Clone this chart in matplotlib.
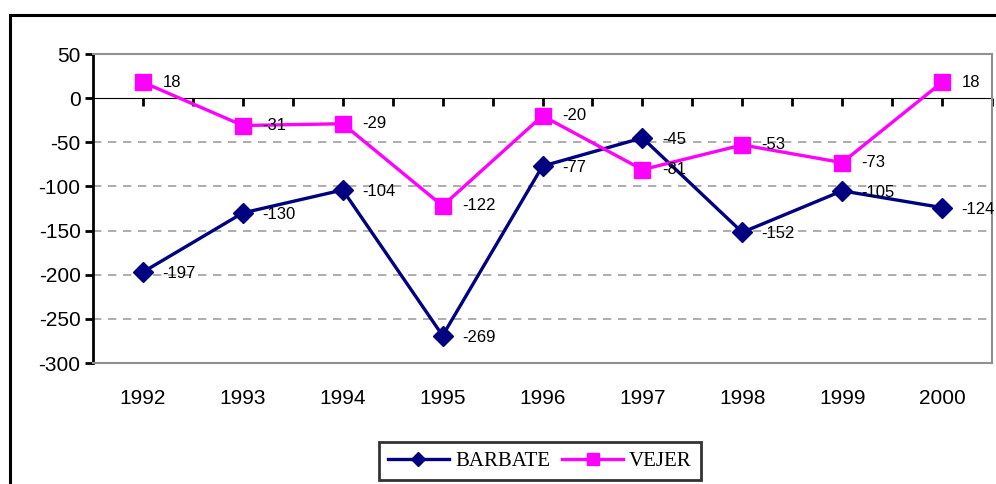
import matplotlib
matplotlib.use("Agg")
import matplotlib.pyplot as plt
import numpy as np
from matplotlib.patches import Rectangle

years = ["1992", "1993", "1994", "1995", "1996", "1997", "1998", "1999", "2000"]
barbate = [-197, -130, -104, -269, -77, -45, -152, -105, -124]
vejer = [18, -31, -29, -122, -20, -81, -53, -73, 18]

YMIN, YMAX = -300, 50
sans = "Liberation Sans"
plt.rcParams["axes.unicode_minus"] = False

fig = plt.figure(figsize=(9.96, 4.84), dpi=100)
ax = fig.add_axes([93 / 996, 1 - 363 / 484, 899 / 996, 309 / 484])

# outer chart frame (runs off the right and bottom edges)
fig.patches.append(Rectangle((10 / 996, -0.1), 1.2, 1 - 15 / 484 + 0.1,
                             transform=fig.transFigure, fill=False,
                             edgecolor="black", linewidth=2.2, clip_on=False))

x = np.arange(len(years))
navy = "#000080"
magenta = "#FF00FF"

ax.plot(x, barbate, color=navy, linewidth=2.4, marker="D", markersize=10,
        markerfacecolor=navy, markeredgecolor=navy, label="BARBATE", zorder=4)
ax.plot(x, vejer, color=magenta, linewidth=2.4, marker="s", markersize=11,
        markerfacecolor=magenta, markeredgecolor=magenta, label="VEJER", zorder=5)

# data labels
for xi, v in zip(x, barbate):
    ax.annotate(f"{v}", (xi, v), xytext=(14, -1), textcoords="offset points",
                ha="left", va="center", fontsize=12, family=sans, zorder=6)
for xi, v in zip(x, vejer):
    ax.annotate(f"{v}", (xi, v), xytext=(14, 0), textcoords="offset points",
                ha="left", va="center", fontsize=12, family=sans, zorder=6)

ax.set_xlim(-0.5, len(years) - 0.5)
ax.set_ylim(YMIN, YMAX)
ax.set_yticks(np.arange(YMIN, YMAX + 1, 50))
for lab in ax.get_yticklabels():
    lab.set_family(sans)
ax.tick_params(axis="y", direction="out", length=6, width=2, labelsize=15, pad=3)

ax.set_xticks(x)
ax.set_xticklabels(years, family=sans, fontsize=15)
ax.tick_params(axis="x", length=0, pad=19)

# dashed gridlines between top and bottom
for g in np.arange(YMIN + 50, YMAX, 50):
    if g != 0:
        ax.axhline(g, color="#A0A0A0", linestyle=(0, (5, 4)), linewidth=1.2, zorder=1)

for side in ["top", "right", "bottom"]:
    ax.spines[side].set_color("#909090")
    ax.spines[side].set_linewidth(1.5)
ax.spines["left"].set_linewidth(2)

# category axis crossing at zero, tick marks every half category
zero_pos = (0 - YMIN) / (YMAX - YMIN)
sec = ax.secondary_xaxis(zero_pos)
sec.set_xticks(np.arange(0, len(years) - 0.4, 0.5))
sec.set_xticklabels([])
sec.tick_params(direction="in", length=6, width=2)
sec.spines["bottom"].set_linewidth(2)

leg = fig.legend(loc="center", bbox_to_anchor=(540 / 996, 1 - 461 / 484), ncol=2,
                 frameon=True, fancybox=False, edgecolor="black",
                 prop={"family": "Liberation Serif", "size": 15},
                 handlelength=2.9, columnspacing=0.6, handletextpad=0.3,
                 borderpad=0.45, markerscale=0.75)
leg.get_frame().set_linewidth(2)

fig.savefig("out.png", dpi=100)
